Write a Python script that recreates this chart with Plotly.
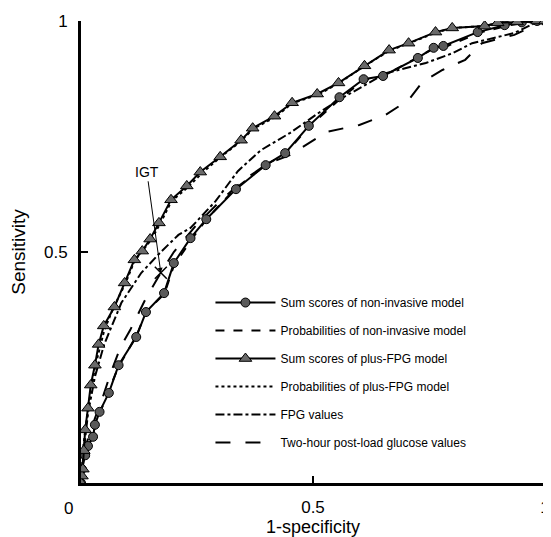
import plotly.graph_objects as go

# ---- data ----
ni_sum_x = [0, 0.002, 0.009, 0.015, 0.026, 0.03, 0.04, 0.06, 0.081, 0.119, 0.14, 0.179, 0.2, 0.236,
            0.27, 0.334, 0.398, 0.44, 0.491, 0.557, 0.609, 0.651, 0.726, 0.76, 0.781, 0.855, 0.913, 0.95, 0.983, 1]
ni_sum_y = [0, 0.03, 0.06, 0.08, 0.10, 0.126, 0.154, 0.195, 0.255, 0.316, 0.37, 0.411, 0.476, 0.53,
            0.571, 0.636, 0.688, 0.714, 0.773, 0.835, 0.874, 0.881, 0.92, 0.942, 0.946, 0.976, 0.991, 0.997, 1.0, 1]

ni_prob_x = [0, 0.005, 0.02, 0.04, 0.06, 0.08, 0.12, 0.14, 0.18, 0.2, 0.24, 0.27, 0.33, 0.4, 0.44,
             0.49, 0.56, 0.61, 0.65, 0.72, 0.76, 0.79, 0.86, 0.92, 0.98, 1]
ni_prob_y = [0, 0.05, 0.09, 0.15, 0.2, 0.25, 0.32, 0.37, 0.41, 0.47, 0.53, 0.57, 0.635, 0.69, 0.712,
             0.77, 0.833, 0.872, 0.88, 0.918, 0.94, 0.946, 0.975, 0.99, 1.0, 1]

fpg_sum_x = [0, 0.002, 0.004, 0.006, 0.009, 0.015, 0.021, 0.03, 0.038, 0.049, 0.072, 0.094, 0.115, 0.132,
             0.149, 0.168, 0.194, 0.228, 0.257, 0.30, 0.345, 0.37, 0.417, 0.455, 0.509, 0.555, 0.611,
             0.664, 0.706, 0.764, 0.80, 0.87, 0.898, 0.94, 0.983, 1]
fpg_sum_y = [0, 0.015, 0.03, 0.07, 0.115, 0.162, 0.212, 0.255, 0.30, 0.34, 0.381, 0.433, 0.483, 0.502,
             0.528, 0.563, 0.613, 0.643, 0.673, 0.706, 0.742, 0.768, 0.794, 0.823, 0.842, 0.866, 0.903,
             0.937, 0.952, 0.976, 0.985, 0.989, 0.996, 0.998, 1.0, 1]

fpg_prob_x = [0, 0.005, 0.015, 0.03, 0.05, 0.07, 0.095, 0.115, 0.15, 0.17, 0.195, 0.23, 0.26, 0.3,
              0.345, 0.37, 0.42, 0.455, 0.51, 0.555, 0.61, 0.665, 0.705, 0.765, 0.8, 0.87, 0.9, 0.98, 1]
fpg_prob_y = [0, 0.08, 0.16, 0.25, 0.33, 0.38, 0.43, 0.48, 0.525, 0.56, 0.61, 0.64, 0.67, 0.705,
              0.74, 0.766, 0.793, 0.822, 0.84, 0.865, 0.902, 0.936, 0.951, 0.975, 0.985, 0.989, 0.996, 1.0, 1]

fpg_val_x = [0, 0.005, 0.015, 0.03, 0.05, 0.087, 0.13, 0.172, 0.21, 0.236, 0.29, 0.338, 0.387, 0.451,
             0.515, 0.566, 0.657, 0.743, 0.80, 0.843, 0.934, 0.983, 1]
fpg_val_y = [0, 0.06, 0.15, 0.23, 0.30, 0.39, 0.455, 0.50, 0.537, 0.552, 0.61, 0.675, 0.72, 0.758,
             0.803, 0.835, 0.887, 0.909, 0.93, 0.952, 0.974, 0.998, 1]

ogtt_x = [0, 0.01, 0.03, 0.047, 0.064, 0.085, 0.106, 0.14, 0.172, 0.2, 0.25, 0.3, 0.35, 0.4, 0.45,
          0.53, 0.6, 0.657, 0.706, 0.736, 0.779, 0.828, 0.864, 0.934, 0.977, 1]
ogtt_y = [0, 0.08, 0.14, 0.186, 0.238, 0.294, 0.331, 0.40, 0.455, 0.50, 0.56, 0.61, 0.655, 0.69, 0.71,
          0.76, 0.775, 0.797, 0.829, 0.868, 0.894, 0.916, 0.952, 0.97, 0.99, 1]

igt_x = [0.172]
igt_y = [0.455]

names = ["Sum scores of non-invasive model", "Probabilities of non-invasive model",
         "Sum scores of plus-FPG model", "Probabilities of plus-FPG model",
         "FPG values", "Two-hour post-load glucose values"]

tick_vals = [0.5, 1]
tick_text = ["0.5", "1"]

FONT = "Arial, Liberation Sans, sans-serif"

fig = go.Figure()

fig.add_trace(go.Scatter(x=ni_prob_x, y=ni_prob_y, name=names[1], mode="lines",
                         line=dict(color="black", width=2, dash="dash"), legendrank=2))
fig.add_trace(go.Scatter(x=fpg_prob_x, y=fpg_prob_y, name=names[3], mode="lines",
                         line=dict(color="black", width=2, dash="dot"), legendrank=4))
fig.add_trace(go.Scatter(x=fpg_val_x, y=fpg_val_y, name=names[4], mode="lines",
                         line=dict(color="black", width=2, dash="dashdot"), legendrank=5))
fig.add_trace(go.Scatter(x=ogtt_x, y=ogtt_y, name=names[5], mode="lines",
                         line=dict(color="black", width=2, dash="longdash"), legendrank=6))
fig.add_trace(go.Scatter(x=ni_sum_x, y=ni_sum_y, name=names[0], mode="lines+markers",
                         line=dict(color="black", width=2),
                         marker=dict(symbol="circle", size=9, color="#5a5a5a",
                                     line=dict(color="black", width=1)), legendrank=1))
fig.add_trace(go.Scatter(x=fpg_sum_x, y=fpg_sum_y, name=names[2], mode="lines+markers",
                         line=dict(color="black", width=2),
                         marker=dict(symbol="triangle-up", size=11, color="#6a6a6a",
                                     line=dict(color="black", width=1)), legendrank=3))
fig.add_trace(go.Scatter(x=igt_x, y=igt_y, mode="markers", showlegend=False,
                         marker=dict(symbol="x-thin", size=12, line=dict(color="black", width=1.5))))

fig.update_layout(
    width=551, height=537,
    margin=dict(l=73, r=14, t=13, b=62, autoexpand=False),
    paper_bgcolor="white", plot_bgcolor="white",
    font=dict(family=FONT, color="black"),
    showlegend=True,
    legend=dict(x=0.279, y=0.422, xanchor="left", yanchor="top",
                font=dict(size=12, family=FONT), tracegroupgap=9, itemwidth=60,
                bgcolor="rgba(0,0,0,0)", traceorder="grouped"),
    xaxis=dict(range=[0, 1], tickvals=tick_vals, ticktext=tick_text, ticks="inside",
               ticklen=7, tickwidth=2, tickcolor="black", showline=True, linecolor="black",
               linewidth=3, showgrid=False, zeroline=False, tickfont=dict(size=17),
               title=dict(text="1-specificity", font=dict(size=18), standoff=0),
               ticklabelstandoff=7, ticklabeloverflow="allow", automargin=False),
    yaxis=dict(range=[0, 1], tickvals=tick_vals, ticktext=tick_text, ticks="inside",
               ticklen=7, tickwidth=2, tickcolor="black", showline=True, linecolor="black",
               linewidth=3, showgrid=False, zeroline=False, tickfont=dict(size=17),
               title=dict(text="Sensitivity", font=dict(size=19), standoff=14),
               ticklabelstandoff=7, ticklabeloverflow="allow", automargin=False),
)

for i, tr in enumerate(fig.data[:6]):
    tr.legendgroup = "g%d" % i

fig.add_annotation(x=0, y=0, xref="x", yref="y", text="0", showarrow=False,
                   xshift=-13, yshift=-25, font=dict(size=17))
fig.add_annotation(x=igt_x[0], y=igt_y[0], xref="x", yref="y", text="IGT",
                   showarrow=True, arrowhead=2, arrowsize=1, arrowwidth=1, arrowcolor="black",
                   ax=-14, ay=-101, font=dict(size=14))

fig.write_html("out.html")
